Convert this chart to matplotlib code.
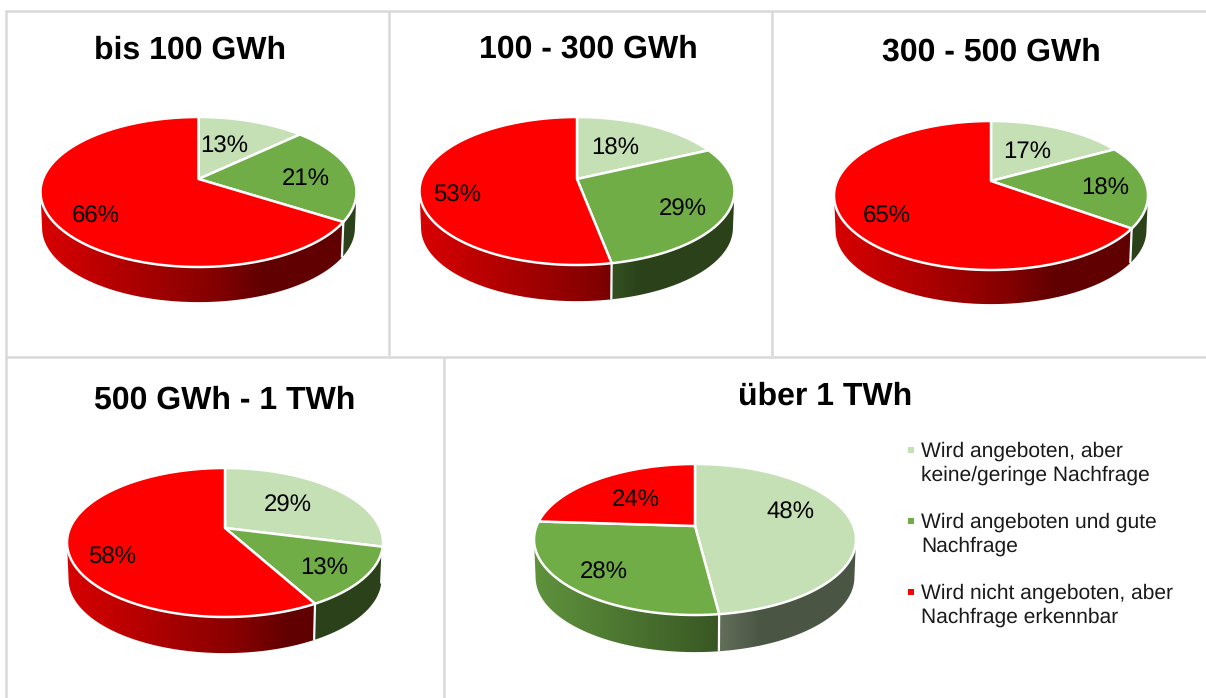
import numpy as np
import matplotlib
matplotlib.use("Agg")
import matplotlib.pyplot as plt
from matplotlib.patches import Polygon

plt.rcParams['font.family'] = ['Liberation Sans', 'DejaVu Sans']
plt.rcParams['text.hinting'] = 'no_hinting'
plt.rcParams['text.hinting_factor'] = 1

# Share of utilities per offer/demand status, by annual sales volume
titles = ["bis 100 GWh", "100 - 300 GWh", "300 - 500 GWh", "500 GWh - 1 TWh", "über 1 TWh"]
offered_no_demand = [13, 18, 17, 29, 48]
offered_good_demand = [21, 29, 18, 13, 28]
not_offered_demand = [66, 53, 65, 58, 24]
legend_labels = ["Wird angeboten, aber\nkeine/geringe Nachfrage",
                 "Wird angeboten und gute\nNachfrage",
                 "Wird nicht angeboten, aber\nNachfrage erkennbar"]
colors = ["#c5e0b4", "#70ad47", "#ff0000"]

# Layout in pixels: apex x/y, half width, back and front reach, wall depth
pie_layout = [(198.5, 179, 158, 62, 88, 36),
              (577, 179, 157.5, 62, 86, 37),
              (991, 181, 157, 60, 89, 35),
              (225, 528, 158, 60, 89, 37),
              (695, 526, 161, 62, 89, 38)]
title_pos = [(190, 48), (588, 47), (991, 50), (225, 398), (825, 394)]
label_pos = [[(224, 145), (306, 177), (96, 215)],
             [(615, 147), (683, 208), (457, 194)],
             [(1027, 150), (1105, 187), (887, 215)],
             [(288, 504), (324, 567), (112, 556)],
             [(790, 511), (604, 571), (636, 498)]]
frame_lines = [((6, 6), (10, 698)), ((6, 1206), (11, 11)), ((389, 389), (11, 356)),
               ((772, 772), (11, 356)), ((6, 1206), (357, 357)), ((444, 444), (357, 698))]
legend_pos = [(911, 921, 462.5), (911, 921, 533.5), (911, 921, 604.5)]

# Wall brightness against horizontal position on the disc
shade_x = [-1.0, 0.1, 0.4, 1.0]
shade_v = [0.85, 0.52, 0.38, 0.38]


def perspective(layout):
    _, _, half_w, back, front, _ = layout
    k = (front - back) / (front + back)
    return k, half_w * np.sqrt(1 - k ** 2), back * (1 + k)


def project(theta, layout):
    """Map clockwise-from-top angle on the unit disc to perspective pixel offsets."""
    k, rx, ry = perspective(layout)
    den = 1 + k * np.cos(theta)
    return rx * np.sin(theta) / den, -ry * np.cos(theta) / den


fig = plt.figure(figsize=(12.06, 6.98), dpi=100)
ax = fig.add_axes([0, 0, 1, 1])
ax.axis("off")

for xs, ys in frame_lines:
    ax.plot(xs, ys, color="#d9d9d9", lw=1.8, solid_capstyle="butt", zorder=1)

ramp = np.linspace(-1, 1, 256)
for i, layout in enumerate(pie_layout):
    cx, cy, half_w, *_, depth = layout
    values = np.array([offered_no_demand[i], offered_good_demand[i], not_offered_demand[i]], float)
    edges = np.concatenate([[0], np.cumsum(values) / values.sum()]) * 2 * np.pi

    # The wall is visible only between the two silhouette angles of the disc
    k, _, _ = perspective(layout)
    front_start = np.arccos(-k)
    front_end = 2 * np.pi - front_start

    for j in range(3):
        start, end = max(edges[j], front_start), min(edges[j + 1], front_end)
        if end <= start:
            continue
        theta = np.linspace(start, end, 120)
        px, py = project(theta, layout)
        top = np.column_stack([cx + px, cy + py])
        low = np.column_stack([cx + px * 0.99, cy + py * 0.99 + depth])

        # Side wall: horizontal brightness ramp clipped to the slice's outer band
        band = Polygon(np.vstack([top, low[::-1]]), closed=True, transform=ax.transData,
                       facecolor="none", edgecolor="none")
        ax.add_patch(band)
        base = np.array(matplotlib.colors.to_rgb(colors[j]))
        strip = base[None, None, :] * np.interp(ramp, shade_x, shade_v)[None, :, None]
        img = ax.imshow(strip, extent=(cx - half_w - 2, cx + half_w + 2, cy + 150, cy - 100),
                        aspect="auto", interpolation="bilinear", zorder=2)
        img.set_clip_path(band)

    # Slice separators running down the wall
    for edge in edges[:3]:
        if front_start < edge < front_end:
            px, py = project(edge, layout)
            ax.plot([cx + px, cx + px * 0.99], [cy + py, cy + py * 0.99 + depth],
                    color="white", lw=1.6, zorder=3, solid_capstyle="butt")

    # Top face of the disc
    for j in range(3):
        theta = np.linspace(edges[j], edges[j + 1], max(int(values[j] * 3), 8))
        px, py = project(theta, layout)
        ax.fill(np.r_[cx, cx + px], np.r_[cy, cy + py], facecolor=colors[j], edgecolor="white",
                lw=1.8, joinstyle="round", zorder=4)

    for j, (lx, ly) in enumerate(label_pos[i]):
        ax.text(lx, ly + 2, f"{values[j]:.0f}%", ha="center", va="center", fontsize=17.5,
                color="black", zorder=5)

    ax.text(title_pos[i][0], title_pos[i][1] + 2, titles[i], ha="center", va="center",
            fontsize=22.8, fontweight="bold", color="black", zorder=5)

for color, label, (mx, tx, ty) in zip(colors, legend_labels, legend_pos):
    ax.scatter([mx], [ty - 12.5], marker="s", s=17, color=color, linewidths=0, zorder=5)
    ax.text(tx, ty + 1, label, ha="left", va="center", fontsize=15.4, color="#1a1a1a",
            linespacing=1.3, zorder=5)

ax.set_xlim(0, 1206)
ax.set_ylim(698, 0)
fig.savefig("out.png", dpi=100)
